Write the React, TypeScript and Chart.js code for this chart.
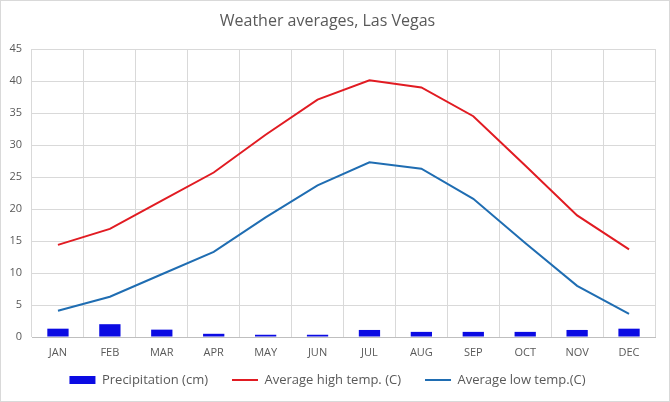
import React, { useEffect, useRef } from "react";
import { Chart, registerables } from "chart.js";

Chart.register(...registerables);

const months = ["JAN", "FEB", "MAR", "APR", "MAY", "JUN", "JUL", "AUG", "SEP", "OCT", "NOV", "DEC"];
const precipitation = [1.3, 2.0, 1.15, 0.5, 0.35, 0.35, 1.1, 0.8, 0.8, 0.8, 1.1, 1.3];
const highTemp = [14.4, 16.9, 21.3, 25.7, 31.6, 37.1, 40.1, 39.0, 34.5, 26.8, 19.0, 13.7];
const lowTemp = [4.1, 6.3, 9.8, 13.3, 18.7, 23.7, 27.3, 26.3, 21.6, 14.7, 8.0, 3.6];

const FONT = "'Open Sans', sans-serif";
const TEXT = "#595959";

// Lift the legend's drawing origin so its labels sit closer to the axis labels.
const legendLift = {
  id: "legendLift",
  afterLayout(chart: any) {
    const lg = chart.legend;
    if (lg) lg.top -= 11.5;
  },
};

export default function App() {
  const ref = useRef<HTMLCanvasElement | null>(null);
  useEffect(() => {
    document.body.style.margin = "0";
    const canvas = ref.current;
    if (!canvas) return;
    const chart = new Chart(canvas, {
      type: "bar",
      data: {
        labels: months,
        datasets: [
          {
            type: "bar",
            label: "Precipitation (cm)",
            data: precipitation,
            backgroundColor: "#0b0be3",
            borderWidth: 0,
            categoryPercentage: 1,
            barPercentage: 0.41,
            order: 3,
          },
          {
            type: "line",
            label: "Average high temp. (C)",
            data: highTemp,
            borderColor: "#e11b22",
            backgroundColor: "#e11b22",
            borderWidth: 2,
            pointRadius: 0,
            tension: 0,
            order: 1,
          },
          {
            type: "line",
            label: "Average low temp.(C)",
            data: lowTemp,
            borderColor: "#1f6db2",
            backgroundColor: "#1f6db2",
            borderWidth: 2,
            pointRadius: 0,
            tension: 0,
            order: 2,
          },
        ] as any,
      },
      plugins: [legendLift],
      options: {
        responsive: false,
        animation: false,
        devicePixelRatio: 1,
        layout: { padding: { left: 0, right: 15, top: 0, bottom: 0 } },
        plugins: {
          title: {
            display: true,
            text: "Weather averages, Las Vegas",
            color: TEXT,
            font: { family: FONT, size: 16, weight: "normal" },
            padding: { top: 12, bottom: 17.8 },
          },
          legend: {
            position: "bottom",
            maxHeight: 41,
            labels: {
              color: TEXT,
              font: { family: FONT, size: 13 },
              usePointStyle: true,
              pointStyleWidth: 26,
              boxHeight: 8,
              padding: 24,
              generateLabels: (c: any) =>
                c.data.datasets.map((ds: any, i: number) => ({
                  text: ds.label,
                  fillStyle: ds.backgroundColor,
                  strokeStyle: ds.type === "bar" ? ds.backgroundColor : ds.borderColor,
                  lineWidth: ds.type === "bar" ? 0 : 2,
                  pointStyle: ds.type === "bar" ? "rect" : "line",
                  fontColor: TEXT,
                  hidden: false,
                  datasetIndex: i,
                })),
            },
          },
          tooltip: { enabled: false },
        },
        scales: {
          x: {
            grid: { color: "#d9d9d9", drawTicks: false, offset: true },
            border: { color: "#bfbfbf" },
            ticks: { color: TEXT, font: { family: FONT, size: 11 }, padding: 9, maxRotation: 0 },
            afterFit: (s: any) => {
              s.height = 24;
            },
          },
          y: {
            min: 0,
            max: 45,
            grid: { color: "#d9d9d9", drawTicks: false },
            border: { display: false },
            ticks: { stepSize: 5, color: TEXT, font: { family: FONT, size: 11 }, padding: 10 },
            afterFit: (s: any) => {
              s.width = 32;
            },
          },
        },
      },
    });
    return () => chart.destroy();
  }, []);
  return (
    <div style={{ position: "relative", width: 670, height: 402, background: "#fff" }}>
      <canvas ref={ref} width={670} height={402} style={{ display: "block" }} />
      <div
        style={{
          position: "absolute",
          inset: 0,
          border: "1px solid #d9d9d9",
          pointerEvents: "none",
        }}
      />
    </div>
  );
}
